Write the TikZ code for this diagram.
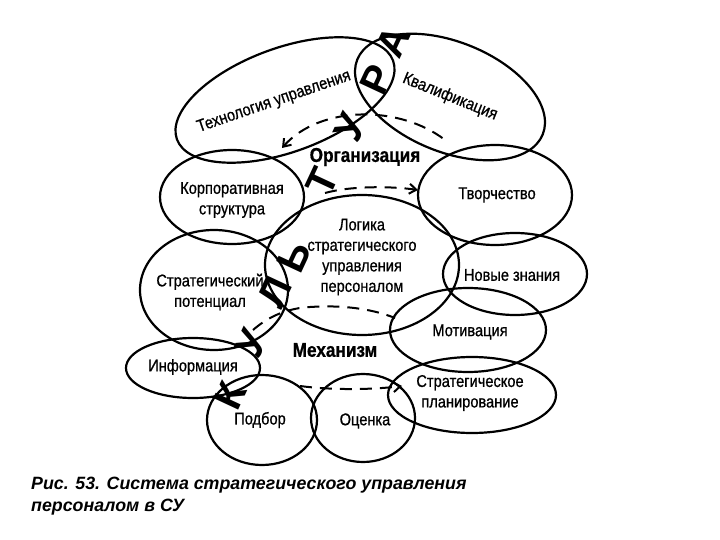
\documentclass[tikz,border=0pt]{standalone}
\usepackage{fontspec}
\setmainfont{Liberation Sans}
\newfontfamily\uzkiy[FakeStretch=0.86, FakeBold=0.8]{Liberation Sans}
\usetikzlibrary{arrows.meta}

\begin{document}
\begin{tikzpicture}[x=1pt, y=-1pt,
    every node/.style={font=\uzkiy\fontsize{17}{20.5}\selectfont, align=center, inner sep=1pt},
    oval/.style={line width=2.2pt},
    glav/.style={font=\uzkiy\bfseries\fontsize{20}{24}\selectfont},
    bukva/.style={font=\normalfont\bfseries\fontsize{40}{40}\selectfont, rotate=65, inner sep=0pt},
    ring/.style={line width=2pt, dash pattern=on 12pt off 8pt},
    podpis/.style={font=\normalfont\bfseries\itshape\fontsize{17.8}{21}\selectfont, anchor=base west}]

    \useasboundingbox (0,0) rectangle (720,540);

    % Овалы
    \draw[oval, rotate around={20:(285,100)}] (285,100) ellipse (115pt and 52pt);
    \draw[oval, rotate around={-22:(450,97)}] (450,97) ellipse (100pt and 55pt);
    \draw[oval] (232,197) ellipse (72pt and 47pt);
    \draw[oval] (495,195) ellipse (77pt and 50pt);
    \draw[oval] (362,265) ellipse (97pt and 70pt);
    \draw[oval] (214,290) ellipse (74pt and 60pt);
    \draw[oval] (515,274) ellipse (72pt and 41pt);
    \draw[oval] (468,330) ellipse (78pt and 42pt);
    \draw[oval] (193,368) ellipse (67pt and 30pt);
    \draw[oval] (472,395) ellipse (84pt and 38pt);
    \draw[oval] (262,420) ellipse (55pt and 45pt);
    \draw[oval] (363,418) ellipse (52pt and 44pt);

    % Кольцо
    \draw[ring, {Straight Barb[length=7pt, width=10pt]}-] (282,148) .. controls (320,105) and (400,105) .. (445,140);
    \draw[ring, -{Straight Barb[length=7pt, width=10pt]}] (325,193) .. controls (350,186) and (390,186) .. (418,190);
    \draw[ring] (253,330) .. controls (270,315) and (290,308) .. (310,307) .. controls (340,305) and (370,308) .. (395,318);
    \draw[ring, -{Straight Barb[length=7pt, width=10pt]}] (300,386) .. controls (330,390) and (370,390) .. (402,386);

    % Надписи
    \node[rotate=19] (tehn) at (274,102) {Технология управления};
    \node[rotate=-22] (kval) at (450,97) {Квалификация};
    \node[glav] (org) at (365,157) {Организация};
    \node (korp) at (232,200) {Корпоративная\\структура};
    \node (tvor) at (497,195) {Творчество};
    \node (logi) at (362,257) {Логика\\стратегического\\управления\\персоналом};
    \node (strp) at (210,292) {Стратегический\\потенциал};
    \node (novz) at (512,275) {Новые знания};
    \node (motv) at (470,332) {Мотивация};
    \node[glav] (meh) at (335,350) {Механизм};
    \node (info) at (193,367) {Информация};
    \node (plan) at (470,393) {Стратегическое\\планирование};
    \node (podb) at (260,420) {Подбор};
    \node (ocen) at (365,421) {Оценка};

    % Культура
    \foreach \b/\x/\y [count=\i] in {К/230/396, У/251/343, Л/275/292, Ь/294/257, Т/322/182, У/350/127, Р/377/80, А/393/42}
        \node[bukva] (b\i) at (\x,\y) {\b};

    % Подпись
    \node[podpis] (pod1) at (30,489) {Рис. 53. Система стратегического управления};
    \node[podpis] (pod2) at (30,511) {персоналом в СУ};
\end{tikzpicture}
\end{document}
